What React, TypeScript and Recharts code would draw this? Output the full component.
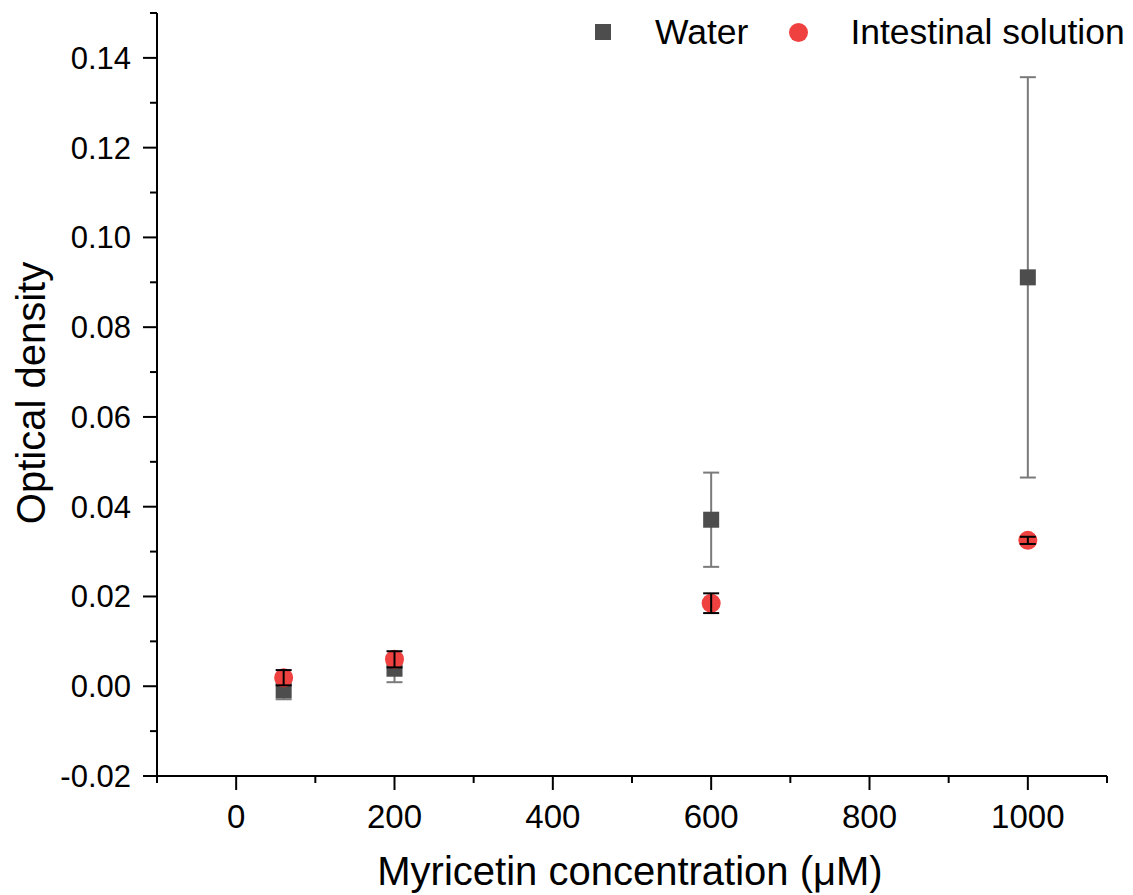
import React from "react";
import {
  ErrorBar,
  Legend,
  Scatter,
  ScatterChart,
  XAxis,
  YAxis,
  Customized,
} from "recharts";

const concentrations = [60, 200, 600, 1000];
const waterOD = [-0.0009, 0.0039, 0.0371, 0.0911];
const waterSD = [0.002, 0.003, 0.0105, 0.0446];
const intestinalOD = [0.0019, 0.006, 0.0185, 0.0325];
const intestinalSD = [0.0017, 0.0018, 0.0022, 0.0008];

const xTicks = [-100, 0, 100, 200, 300, 400, 500, 600, 700, 800, 900, 1000, 1100];
const xLabels = [0, 200, 400, 600, 800, 1000];
const yTicks = [
  -0.02, -0.01, 0, 0.01, 0.02, 0.03, 0.04, 0.05, 0.06, 0.07, 0.08, 0.09, 0.1,
  0.11, 0.12, 0.13, 0.14, 0.15,
];
const yLabels = [-0.02, 0, 0.02, 0.04, 0.06, 0.08, 0.1, 0.12, 0.14];

const WATER = "#4d4d4d";
const WATER_ERR = "#7a7a7a";
const RED = "#f04141";
const FONT = "'Liberation Sans', Arial, sans-serif";

const waterData = concentrations.map((x, i) => ({
  x,
  y: waterOD[i],
  err: waterSD[i],
}));
const intestinalData = concentrations.map((x, i) => ({
  x,
  y: intestinalOD[i],
  err: intestinalSD[i],
}));

function XTick({ x, y, payload }: any) {
  const v = payload.value;
  const major = xLabels.includes(v);
  return (
    <g>
      <line x1={x} y1={y} x2={x} y2={y + (major ? 14 : 7)} stroke="#000" strokeWidth={2} />
      {major && (
        <text x={x} y={y + 52} textAnchor="middle" fontSize={33} fontFamily={FONT} fill="#000">
          {v}
        </text>
      )}
    </g>
  );
}

function YTick({ x, y, payload }: any) {
  const v = payload.value;
  const major = yLabels.some((l) => Math.abs(l - v) < 1e-9);
  return (
    <g>
      <line x1={x} y1={y} x2={x - (major ? 14 : 7)} y2={y} stroke="#000" strokeWidth={2} />
      {major && (
        <text x={x - 26} y={y + 11} textAnchor="end" fontSize={31} fontFamily={FONT} fill="#000">
          {v.toFixed(2)}
        </text>
      )}
    </g>
  );
}

function SquareShape({ cx, cy }: any) {
  return <rect x={cx - 8} y={cy - 8} width={16} height={16} fill={WATER} />;
}

function CircleShape({ cx, cy }: any) {
  return <circle cx={cx} cy={cy} r={9.5} fill={RED} />;
}

function AxisTitles() {
  return (
    <g fontFamily={FONT} fill="#000">
      <text x={630} y={885} textAnchor="middle" fontSize={40}>
        Myricetin concentration (μM)
      </text>
      <text
        x={45}
        y={393}
        textAnchor="middle"
        fontSize={40}
        transform="rotate(-90 45 393)"
      >
        Optical density
      </text>
    </g>
  );
}

function LegendContent() {
  const text: React.CSSProperties = { fontFamily: FONT, fontSize: 35.5, color: "#000" };
  return (
    <div style={{ display: "flex", alignItems: "center", height: 50 }}>
      <span style={{ width: 16, height: 16, background: WATER, marginRight: 44 }} />
      <span style={{ ...text, marginRight: 41 }}>Water</span>
      <span
        style={{ width: 19, height: 19, borderRadius: "50%", background: RED, marginRight: 42 }}
      />
      <span style={text}>Intestinal solution</span>
    </div>
  );
}

export default function App() {
  return (
    <div
      style={{
        position: "absolute",
        top: 0,
        left: 0,
        width: 1133,
        height: 895,
        background: "#fff",
      }}
    >
      <ScatterChart
        width={1133}
        height={895}
        margin={{ top: 13, right: 26, bottom: 0, left: 0 }}
      >
        <XAxis
          type="number"
          dataKey="x"
          domain={[-100, 1100]}
          ticks={xTicks}
          interval={0}
          tickSize={0}
          tickMargin={0}
          tick={<XTick />}
          height={119}
          axisLine={{ stroke: "#000", strokeWidth: 2 }}
          allowDataOverflow
        />
        <YAxis
          type="number"
          dataKey="y"
          domain={[-0.02, 0.15]}
          ticks={yTicks}
          interval={0}
          tickSize={0}
          tickMargin={0}
          tick={<YTick />}
          width={157}
          axisLine={{ stroke: "#000", strokeWidth: 2 }}
          allowDataOverflow
        />
        <Legend
          verticalAlign="middle"
          align="center"
          layout="horizontal"
          content={<LegendContent />}
          wrapperStyle={{ top: 7, left: 595, width: 538, height: 50 }}
        />
        <Scatter
          name="Water"
          data={waterData}
          shape={<SquareShape />}
          isAnimationActive={false}
        >
          <ErrorBar
            dataKey="err"
            direction="y"
            width={8}
            stroke={WATER_ERR}
            strokeWidth={2}
          />
        </Scatter>
        <Scatter
          name="Intestinal solution"
          data={intestinalData}
          shape={<CircleShape />}
          isAnimationActive={false}
        >
          {/* black error bars sit on top of the red dots */}
          <ErrorBar
            dataKey="err"
            direction="y"
            width={8}
            stroke="#000"
            strokeWidth={2}
            zIndex={700}
          />
        </Scatter>
        <Customized component={<AxisTitles />} />
      </ScatterChart>
    </div>
  );
}
